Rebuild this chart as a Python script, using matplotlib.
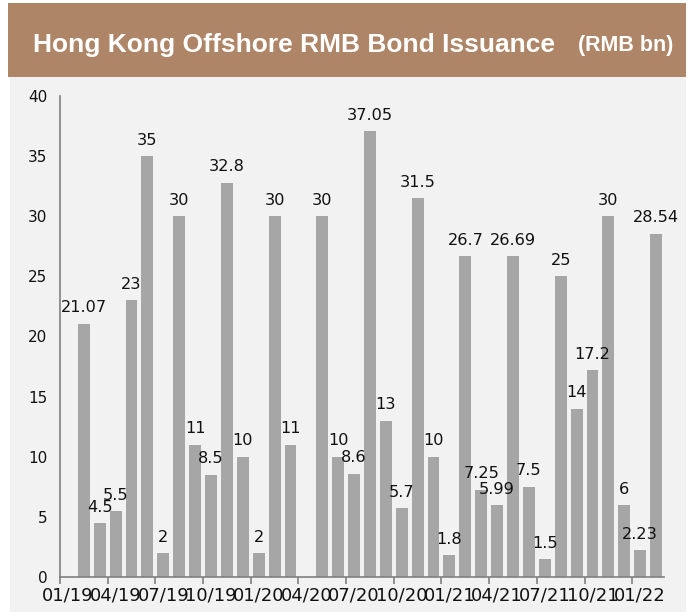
import matplotlib.pyplot as plt
from matplotlib.patches import Rectangle

months = ["01/19", "02/19", "03/19", "04/19", "05/19", "06/19", "07/19", "08/19", "09/19", "10/19",
          "11/19", "12/19", "01/20", "02/20", "03/20", "04/20", "05/20", "06/20", "07/20", "08/20",
          "09/20", "10/20", "11/20", "12/20", "01/21", "02/21", "03/21", "04/21", "05/21", "06/21",
          "07/21", "08/21", "09/21", "10/21", "11/21", "12/21", "01/22", "02/22"]
issuance = [0, 21.07, 4.5, 5.5, 23, 35, 2, 30, 11, 8.5, 32.8, 10, 2, 30, 11, 0, 30, 10, 8.6, 37.05,
            13, 5.7, 31.5, 10, 1.8, 26.7, 7.25, 5.99, 26.69, 7.5, 1.5, 25, 14, 17.2, 30, 6, 2.23, 28.54]
y_ticks = [0, 5, 10, 15, 20, 25, 30, 35, 40]

W, H = 692, 612
fig = plt.figure(figsize=(W / 100, H / 100), dpi=100)
fig.patch.set_facecolor("white")

# title band and gray panel
fig.patches.append(Rectangle((8 / W, 1 - 77 / H), 678 / W, 74 / H, transform=fig.transFigure,
                             facecolor="#ae8566", edgecolor="none", zorder=0))
fig.patches.append(Rectangle((10 / W, 0), 676 / W, 1 - 77 / H, transform=fig.transFigure,
                             facecolor="#f2f2f2", edgecolor="none", zorder=0))
fig.text(33 / W, 1 - 45 / H, "Hong Kong Offshore RMB Bond Issuance", color="white",
         fontsize=19, fontweight="bold", family="Liberation Sans", va="center", ha="left")
fig.text(673 / W, 1 - 46 / H, "(RMB bn)", color="white",
         fontsize=15.5, fontweight="bold", family="Liberation Sans", va="center", ha="right")

ax = fig.add_axes([60 / W, (H - 577) / H, 604 / W, (577 - 96) / H], zorder=2)
ax.set_facecolor("none")
x = list(range(len(months)))
ax.bar(x, issuance, width=0.75, color="#a6a6a6", zorder=2)
for xi, v in zip(x, issuance):
    if v:
        ax.annotate("{:g}".format(v), (xi, v), xytext=(0, 6), textcoords="offset points",
                    ha="center", va="bottom", fontsize=11.6, color="#111111")

ax.set_xlim(-0.5, len(months) - 0.5)
ax.set_ylim(0, 40)
ax.set_yticks(y_ticks)
ax.tick_params(axis="y", length=0, labelsize=11, pad=9, labelcolor="#111111")

# labels on every third month, tick marks on the boundary before it
ax.set_xticks(x[::3])
ax.set_xticklabels(months[::3], fontsize=13, color="#111111")
ax.tick_params(axis="x", which="major", length=0, pad=7)
ax.set_xticks([i - 0.5 for i in x[::3]], minor=True)
ax.tick_params(axis="x", which="minor", length=5, color="#808080", width=1.2)

for side in ["top", "right"]:
    ax.spines[side].set_visible(False)
for side in ["left", "bottom"]:
    ax.spines[side].set_color("#808080")
    ax.spines[side].set_linewidth(1.2)

plt.savefig("out.png", dpi=100)
